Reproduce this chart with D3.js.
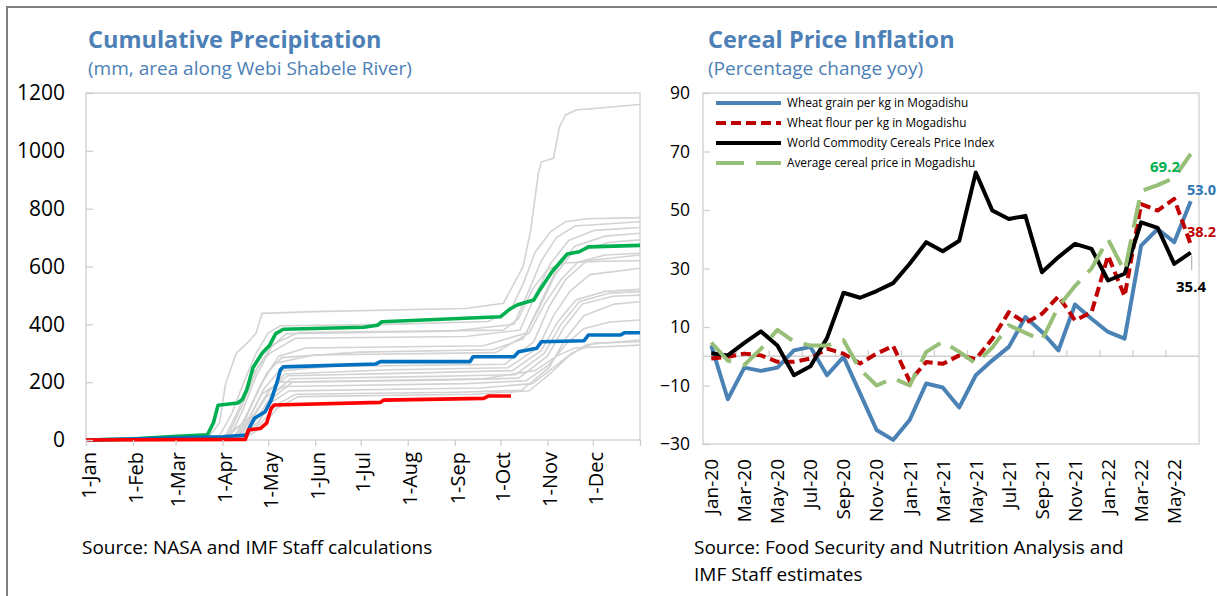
<!DOCTYPE html>
<html>
<head>
<meta charset="utf-8">
<script src="https://cdn.jsdelivr.net/npm/d3@7"></script>
<style>
  body { margin: 0; background: #fff; }
  svg { display: block; font-family: "Open Sans", "Noto Sans", sans-serif; }
</style>
</head>
<body>
<div id="chart"></div>
<script>
// ---------- left panel: cumulative precipitation (day of year, mm) ----------
const monthStartDays = [0, 31, 59, 90, 120, 151, 181, 212, 243, 273, 304, 334];
const monthStartLabels = ['1-Jan', '1-Feb', '1-Mar', '1-Apr', '1-May', '1-Jun',
  '1-Jul', '1-Aug', '1-Sep', '1-Oct', '1-Nov', '1-Dec'];
const precipTicks = [0, 200, 400, 600, 800, 1000, 1200];

// past years, grey
const pastYears = [
  [[0,0],[80,5],[88,60],[92,196],[99,300],[106,334],[112,369],[116,438],[150,444],[250,455],[275,473],[288,600],[293,726],[298,922],[300,962],[308,974],[312,1083],[316,1124],[323,1141],[365,1160]],
  [[0,0],[60,5],[88,15],[96,90],[104,200],[112,300],[120,370],[128,395],[200,400],[265,410],[280,450],[288,540],[296,650],[306,720],[316,755],[330,765],[365,769]],
  [[0,0],[70,6],[95,12],[103,100],[112,220],[122,320],[132,368],[240,376],[282,400],[292,520],[300,620],[310,700],[322,740],[365,755]],
  [[0,0],[75,8],[92,14],[101,110],[110,230],[121,300],[138,352],[250,358],[286,380],[296,500],[306,610],[318,690],[335,725],[365,735]],
  [[0,0],[80,4],[98,10],[107,100],[117,210],[127,290],[145,318],[262,326],[290,370],[300,480],[310,590],[322,670],[342,705],[365,715]],
  [[0,0],[85,5],[100,8],[109,120],[119,230],[129,285],[180,304],[268,312],[288,350],[299,460],[309,570],[320,645],[345,684],[365,692]],
  [[0,0],[90,10],[104,60],[114,180],[124,265],[150,294],[270,302],[292,370],[302,470],[313,555],[324,615],[342,640],[365,646]],
  [[0,0],[92,6],[108,80],[117,175],[127,238],[160,254],[276,262],[295,340],[305,460],[316,555],[330,620],[365,640]],
  [[0,0],[95,4],[110,75],[120,165],[131,228],[200,243],[278,250],[298,320],[308,430],[319,515],[332,572],[365,594]],
  [[0,0],[96,6],[111,90],[121,175],[133,222],[220,232],[281,240],[300,310],[311,410],[323,485],[342,514],[365,521]],
  [[0,0],[98,3],[112,70],[123,160],[135,212],[230,220],[283,226],[302,300],[313,400],[325,478],[345,508],[365,513]],
  [[0,0],[100,5],[113,60],[124,150],[136,200],[240,208],[285,214],[304,290],[315,390],[327,470],[347,497],[365,501]],
  [[0,0],[102,4],[114,50],[125,120],[138,158],[245,165],[287,172],[305,250],[316,350],[328,430],[348,470],[365,478]],
  [[0,0],[99,8],[109,70],[119,150],[130,185],[250,195],[290,205],[305,260],[316,330],[328,385],[345,408],[365,415]],
  [[0,0],[103,2],[115,40],[126,110],[140,150],[255,158],[292,170],[306,230],[318,290],[330,330],[365,346]],
  [[0,0],[101,6],[112,45],[122,130],[134,170],[260,180],[294,195],[308,250],[320,300],[335,335],[365,340]],
  [[0,0],[97,5],[106,60],[116,160],[128,200],[262,212],[296,240],[310,290],[322,318],[365,328]],
  [[0,0],[93,10],[103,120],[113,250],[123,330],[140,372],[275,380],[285,420],[294,520],[304,590],[315,612],[340,618],[365,620]]
];
const greenYear = [[0,0],[30,3],[57,12],[80,18],[84,60],[87,120],[100,128],[103,140],[106,175],[110,250],[116,300],[121,328],[125,368],[130,383],[183,390],[192,397],[195,409],[273,426],[279,452],[284,467],[295,484],[299,519],[307,582],[317,643],[325,651],[331,668],[365,673]];
const blueYear = [[0,0],[90,11],[106,17],[108,46],[111,75],[118,98],[122,138],[126,202],[128,242],[130,253],[191,263],[194,271],[253,271],[255,288],[282,288],[285,305],[297,317],[300,340],[328,343],[331,363],[352,363],[355,371],[365,371]];
const redYear = [[0,0],[105,2],[107,35],[115,40],[119,58],[122,110],[124,121],[194,130],[196,138],[262,144],[265,152],[280,152]];

// ---------- right panel: cereal price inflation (% yoy) ----------
const months = ['Jan-20','Feb-20','Mar-20','Apr-20','May-20','Jun-20','Jul-20','Aug-20','Sep-20','Oct-20','Nov-20','Dec-20',
  'Jan-21','Feb-21','Mar-21','Apr-21','May-21','Jun-21','Jul-21','Aug-21','Sep-21','Oct-21','Nov-21','Dec-21',
  'Jan-22','Feb-22','Mar-22','Apr-22','May-22','Jun-22'];
const wheatGrain = [3.7,-14.7,-3.9,-5.0,-3.9,2.0,3.2,-6.5,-0.2,-12.7,-25.2,-28.6,-21.8,-9.3,-10.7,-17.5,-6.5,-1.4,3.2,13.4,8.3,2.0,17.7,12.8,8.3,6.0,37.8,43.5,39.0,53.0];
const wheatFlour = [-0.8,-0.2,0.9,0.3,-1.9,-1.9,-0.8,2.6,0.9,-2.5,0.9,3.5,-8.5,-2.0,-2.6,0.3,-1.0,6.0,15.1,11.4,14.5,20.5,12.3,15.0,34.4,20.5,52.0,49.8,53.8,38.2];
const worldCereals = [1.0,0.3,4.6,8.5,3.7,-6.5,-3.4,6.2,21.7,20.0,22.3,25.0,31.6,39.0,35.9,39.5,62.8,49.8,46.9,48.0,28.7,33.9,38.4,36.7,25.9,28.2,45.8,43.9,31.6,35.4];
const avgCereal = [4.7,-1.5,-3.0,2.5,9.0,5.0,3.7,3.7,5.5,-4.5,-10.0,-7.5,-10.0,1.5,5.0,1.5,-2.5,3.0,10.6,8.0,5.5,17.0,24.0,30.0,40.0,29.0,56.5,58.5,61.0,69.2];
const inflationTicks = [-30, -10, 10, 30, 50, 70, 90];

const seriesInfo = [
  { name: 'Wheat grain per kg in Mogadishu', values: wheatGrain, color: '#4B82B5', dash: null, label: '53.0', labelColor: '#2E75B6' },
  { name: 'Wheat flour per kg in Mogadishu', values: wheatFlour, color: '#C00000', dash: '10,5', label: '38.2', labelColor: '#C00000' },
  { name: 'World Commodity Cereals Price Index', values: worldCereals, color: '#000000', dash: null, label: '35.4', labelColor: '#000000' },
  { name: 'Average cereal price in Mogadishu', values: avgCereal, color: '#97BF78', dash: '28,12', label: '69.2', labelColor: '#00B050' }
];

const W = 1217, H = 596;
const titleColor = '#4D80B6';
const frameColor = '#CFCFCF';

const svg = d3.select('#chart').append('svg')
  .attr('width', W).attr('height', H);
svg.append('rect').attr('width', W).attr('height', H).attr('fill', '#fff');

// outer page frame
svg.append('path')
  .attr('d', `M7,${H} L7,7 L${W},7`)
  .attr('fill', 'none').attr('stroke', '#7F7F7F').attr('stroke-width', 2);

// ================= LEFT PANEL =================
const L = { left: 86, right: 640, top: 93, bottom: 440 };
const xDay = d3.scaleLinear().domain([0, 365]).range([L.left, L.right]);
const yMm = d3.scaleLinear().domain([0, 1200]).range([L.bottom, L.top]);

svg.append('text').attr('x', 88).attr('y', 48)
  .attr('fill', titleColor).attr('font-size', 23.5).attr('font-weight', 700)
  .text('Cumulative Precipitation');
svg.append('text').attr('x', 88).attr('y', 75)
  .attr('fill', titleColor).attr('font-size', 19)
  .text('(mm, area along Webi Shabele River)');

svg.append('rect')
  .attr('x', L.left).attr('y', L.top)
  .attr('width', L.right - L.left).attr('height', L.bottom - L.top)
  .attr('fill', 'none').attr('stroke', frameColor).attr('stroke-width', 1.3);

const lineMm = d3.line().x(d => xDay(d[0])).y(d => yMm(d[1]));

svg.append('g').selectAll('path')
  .data(pastYears)
  .enter().append('path')
  .attr('d', lineMm)
  .attr('fill', 'none').attr('stroke', '#D3D3D3').attr('stroke-width', 1.6);

[[greenYear, '#00B050'], [blueYear, '#0070C0'], [redYear, '#FF0000']].forEach(([d, c]) => {
  svg.append('path').attr('d', lineMm(d))
    .attr('fill', 'none').attr('stroke', c).attr('stroke-width', 3.6)
    .attr('stroke-linejoin', 'round');
});

// y axis (ticks inside)
const yAxisL = svg.append('g')
  .attr('transform', `translate(${L.left},0)`)
  .call(d3.axisLeft(yMm).tickValues(precipTicks).tickFormat(d3.format('d'))
    .tickSizeInner(-7).tickSizeOuter(0).tickPadding(21));
yAxisL.select('.domain').remove();
yAxisL.selectAll('line').attr('stroke', frameColor).attr('stroke-width', 1.3);
yAxisL.selectAll('text').attr('font-size', 21).attr('fill', '#000')
  .attr('font-family', '"Open Sans", sans-serif');

// x axis
const xAxisL = svg.append('g')
  .attr('transform', `translate(0,${L.bottom})`)
  .call(d3.axisBottom(xDay).tickValues(monthStartDays.concat([365]))
    .tickFormat((d, i) => monthStartLabels[i] || '').tickSize(6).tickSizeOuter(0));
xAxisL.select('.domain').remove();
xAxisL.selectAll('line').attr('stroke', frameColor).attr('stroke-width', 1.3);
xAxisL.selectAll('text')
  .attr('font-size', 20).attr('fill', '#000')
  .attr('font-family', '"Open Sans", sans-serif')
  .attr('transform', 'rotate(-90)')
  .attr('text-anchor', 'end')
  .attr('x', -12).attr('y', 2).attr('dy', '0.36em');

svg.append('text').attr('x', 82).attr('y', 554)
  .attr('font-size', 19).attr('fill', '#000')
  .text('Source: NASA and IMF Staff calculations');

// ================= RIGHT PANEL =================
const R = { left: 703, right: 1199, top: 93, bottom: 444 };
const xMonth = d3.scaleBand().domain(months).range([R.left, R.right]);
const yPct = d3.scaleLinear().domain([-30, 90]).range([R.bottom, R.top]);
const bw = xMonth.bandwidth();
const mx = m => xMonth(m) + bw / 2;

svg.append('text').attr('x', 708).attr('y', 48)
  .attr('fill', titleColor).attr('font-size', 23.5).attr('font-weight', 700)
  .text('Cereal Price Inflation');
svg.append('text').attr('x', 708).attr('y', 75)
  .attr('fill', titleColor).attr('font-size', 19)
  .text('(Percentage change yoy)');

svg.append('rect')
  .attr('x', R.left).attr('y', R.top)
  .attr('width', R.right - R.left).attr('height', R.bottom - R.top)
  .attr('fill', 'none').attr('stroke', frameColor).attr('stroke-width', 1.3);

const yAxisR = svg.append('g')
  .attr('transform', `translate(${R.left},0)`)
  .call(d3.axisLeft(yPct).tickValues(inflationTicks).tickSizeInner(-7).tickSizeOuter(0).tickPadding(13));
yAxisR.select('.domain').remove();
yAxisR.selectAll('line').attr('stroke', frameColor).attr('stroke-width', 1.3);
yAxisR.selectAll('text').attr('font-size', 17.5).attr('fill', '#000')
  .attr('font-family', '"Open Sans", sans-serif');

// category axis at zero
const y0 = yPct(0);
svg.append('line')
  .attr('x1', R.left).attr('x2', R.right).attr('y1', y0).attr('y2', y0)
  .attr('stroke', frameColor).attr('stroke-width', 1.3);
svg.append('g').selectAll('line')
  .data(months.filter((m, i) => i > 0 && i % 2 === 0))
  .enter().append('line')
  .attr('x1', d => xMonth(d)).attr('x2', d => xMonth(d))
  .attr('y1', y0).attr('y2', y0 - 6)
  .attr('stroke', frameColor).attr('stroke-width', 1.3);

svg.append('g').selectAll('text')
  .data(months.filter((m, i) => i % 2 === 0))
  .enter().append('text')
  .attr('transform', d => `translate(${mx(d)},459) rotate(-90)`)
  .attr('text-anchor', 'end').attr('dy', '0.36em')
  .attr('font-size', 19).attr('fill', '#000')
  .text(d => d);

const linePct = d3.line().x((d, i) => mx(months[i])).y(d => yPct(d));

// draw order: grain, flour, world, average on top
seriesInfo.forEach(s => {
  svg.append('path').attr('d', linePct(s.values))
    .attr('fill', 'none').attr('stroke', s.color).attr('stroke-width', 4)
    .attr('stroke-dasharray', s.dash)
    .attr('stroke-linejoin', 'round');
});

// legend
const legend = svg.append('g');
seriesInfo.forEach((s, i) => {
  const ly = 103 + i * 20;
  legend.append('line')
    .attr('x1', 716).attr('x2', 781).attr('y1', ly).attr('y2', ly)
    .attr('stroke', s.color).attr('stroke-width', 4)
    .attr('stroke-dasharray', s.dash);
  legend.append('text')
    .attr('x', 787).attr('y', ly).attr('dy', '0.36em')
    .attr('font-size', 11.8).attr('fill', '#000')
    .text(s.name);
});

// end-of-series value labels
const lastM = months[months.length - 1];
const endLabels = [
  { s: seriesInfo[3], x: 1150, y: 167, size: 15 },
  { s: seriesInfo[0], x: 1187, y: 190, size: 14.5 },
  { s: seriesInfo[1], x: 1187, y: 232, size: 14.5 },
  { s: seriesInfo[2], x: 1176, y: 287, size: 15 }
];
svg.append('line')
  .attr('x1', mx(lastM) + 1).attr('x2', mx(lastM) + 1)
  .attr('y1', yPct(worldCereals[worldCereals.length - 1]) + 3).attr('y2', 270)
  .attr('stroke', '#A6A6A6').attr('stroke-width', 1);
endLabels.forEach(e => {
  svg.append('text')
    .attr('x', e.x).attr('y', e.y).attr('dy', '0.36em')
    .attr('font-size', e.size).attr('font-weight', 700)
    .attr('fill', e.s.labelColor)
    .text(e.s.label);
});

svg.append('text').attr('x', 694).attr('y', 554)
  .attr('font-size', 19).attr('fill', '#000')
  .text('Source: Food Security and Nutrition Analysis and');
svg.append('text').attr('x', 694).attr('y', 581)
  .attr('font-size', 19).attr('fill', '#000')
  .text('IMF Staff estimates');
</script>
</body>
</html>
